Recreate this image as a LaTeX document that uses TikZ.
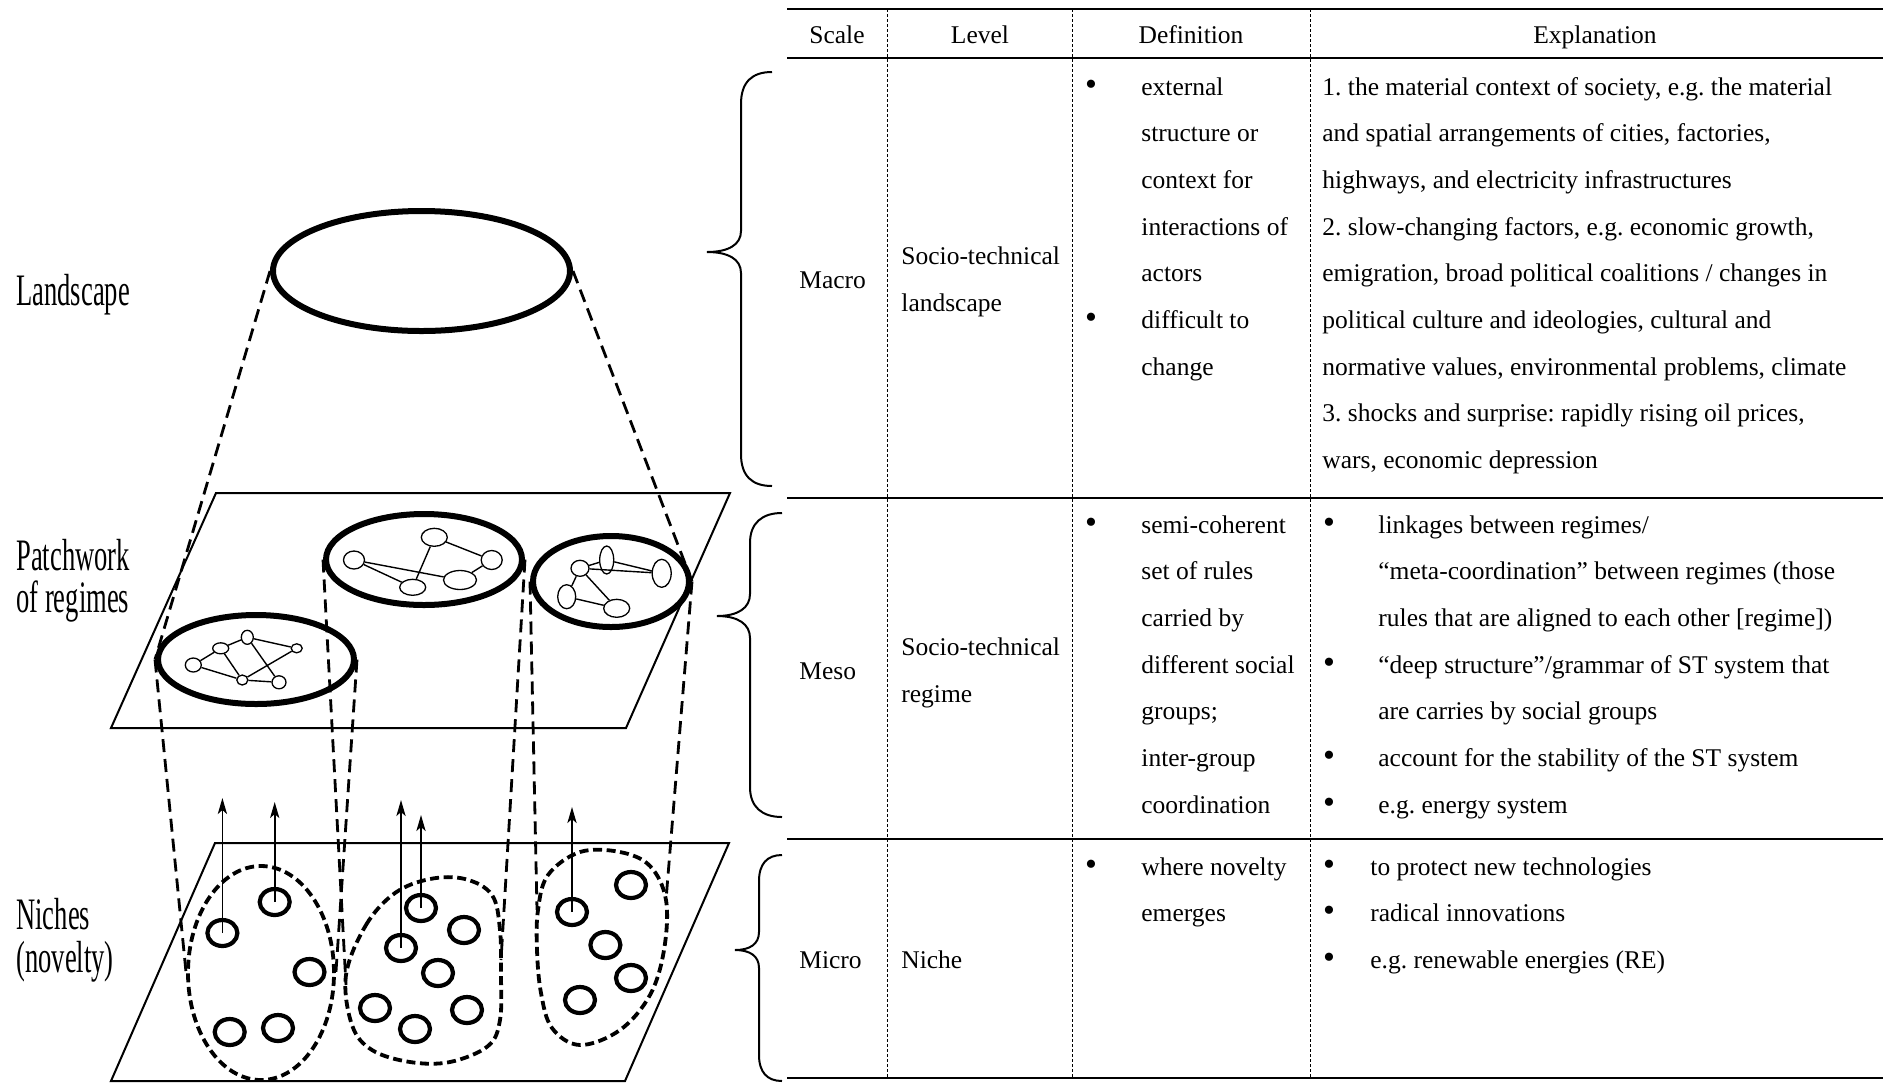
\documentclass[tikz,border=0pt]{standalone}
\usepackage{fontspec}
\setmainfont{Liberation Serif}
\usetikzlibrary{shapes.geometric, arrows.meta}
\frenchspacing

\begin{document}
\begin{tikzpicture}[x=0.5pt, y=-0.5pt,
  plane/.style={line width=1pt, line join=miter},
  thickell/.style={ellipse, draw, line width=3pt, inner sep=0pt},
  netnode/.style={ellipse, draw, line width=0.65pt, inner sep=0pt},
  netedge/.style={line width=0.7pt},
  nichecirc/.style={ellipse, draw, line width=2.1pt, inner sep=0pt, minimum width=15pt, minimum height=13pt},
  link/.style={line width=1.4pt, dash pattern=on 6.5pt off 3.5pt},
  blob/.style={line width=1.9pt, dash pattern=on 4.5pt off 2.3pt},
  rise/.style={line width=0.85pt, -{Stealth[length=8pt, width=4.6pt, inset=2pt]}},
  rule/.style={line width=1.3pt},
  colsep/.style={line width=0.5pt, dash pattern=on 1.5pt off 1pt},
  brace/.style={line width=1pt},
  cell/.style={inner sep=0pt, anchor=base west, font=\fontsize{12.75pt}{15pt}\selectfont},
  bul/.style={inner sep=0pt, anchor=base, font=\fontsize{17pt}{20pt}\selectfont},
  head/.style={inner sep=0pt, anchor=base, font=\fontsize{12.75pt}{15pt}\selectfont},
  lvl/.style={inner sep=0pt, anchor=base west, font=\fontsize{22.5pt}{26pt}\selectfont},
]
\useasboundingbox (0,0) rectangle (1883,1083);

% ---------- level labels ----------
\node[lvl] (labLand) at (16,305) {\scalebox{0.59}[1]{Landscape}};
\node[lvl] (labPatch) at (16,570) {\scalebox{0.59}[1]{Patchwork}};
\node[lvl] (labOfReg) at (16,612) {\scalebox{0.59}[1]{of regimes}};
\node[lvl] (labNiche) at (16,929) {\scalebox{0.59}[1]{Niches}};
\node[lvl] (labNov) at (16,972) {\scalebox{0.59}[1]{(novelty)}};

% ---------- planes ----------
\coordinate (rpTL) at (216,493);
\coordinate (rpTR) at (730,493);
\coordinate (rpBR) at (626,728);
\coordinate (rpBL) at (111,728);
\draw[plane] (rpTL) -- (rpTR) -- (rpBR) -- (rpBL) -- cycle;
\coordinate (npTL) at (215,843);
\coordinate (npTR) at (729,843);
\coordinate (npBR) at (625,1081);
\coordinate (npBL) at (111,1081);
\draw[plane] (npTL) -- (npTR) -- (npBR) -- (npBL) -- cycle;

% ---------- landscape and regimes ----------
\node[thickell, minimum width=148.5pt, minimum height=60pt] (land) at (421.5,271) {};
\node[thickell, minimum width=98pt, minimum height=44.5pt] (regL) at (256,659.5) {};
\node[thickell, minimum width=98pt, minimum height=45.5pt] (regM) at (424,559.5) {};
\node[thickell, minimum width=78pt, minimum height=45.5pt] (regR) at (611,581.5) {};

% network in the left regime
\node[netnode, minimum width=8pt, minimum height=7pt] (nA) at (193.3,665) {};
\node[netnode, minimum width=8pt, minimum height=5.5pt] (nB) at (220.7,648.3) {};
\node[netnode, minimum width=6pt, minimum height=7pt] (nC) at (247.3,637.3) {};
\node[netnode, minimum width=5.5pt, minimum height=4.5pt] (nD) at (296.7,648.3) {};
\node[netnode, minimum width=5.5pt, minimum height=5pt] (nE) at (242.3,680) {};
\node[netnode, minimum width=7pt, minimum height=6.5pt] (nF) at (279,682.3) {};
\draw[netedge] (nA) -- (nB) (nB) -- (nC) (nC) -- (nD) (nA) -- (nE)
  (nB) -- (nE) (nC) -- (nF) (nD) -- (nE) (nE) -- (nF);

% network in the middle regime
\node[netnode, minimum width=10.5pt, minimum height=9pt] (nG) at (354,560) {};
\node[netnode, minimum width=13pt, minimum height=9pt] (nH) at (434.3,537.3) {};
\node[netnode, minimum width=13pt, minimum height=8pt] (nI) at (412.7,587.3) {};
\node[netnode, minimum width=16.5pt, minimum height=9.5pt] (nJ) at (460,580) {};
\node[netnode, minimum width=10.5pt, minimum height=9.5pt] (nK) at (491.7,560) {};
\draw[netedge] (nG) -- (nI) (nG) -- (nJ) (nH) -- (nI) (nH) -- (nK) (nJ) -- (nK);

% network in the right regime
\node[netnode, minimum width=9pt, minimum height=8pt] (nL) at (580,568.3) {};
\node[netnode, minimum width=7pt, minimum height=14pt] (nM) at (606.7,560) {};
\node[netnode, minimum width=9.5pt, minimum height=14pt] (nN) at (661.7,573.3) {};
\node[netnode, minimum width=9pt, minimum height=12pt] (nO) at (566.7,596.7) {};
\node[netnode, minimum width=13pt, minimum height=9pt] (nP) at (616.7,608.3) {};
\draw[netedge] (nL) -- (nM) (nM) -- (nN) (nL) -- (nN) (nL) -- (nO) (nL) -- (nP) (nO) -- (nP);

% ---------- niches ----------
\node[ellipse, draw, blob, inner sep=0pt, minimum width=73pt, minimum height=107pt] (nb1) at (261,973) {};
\draw[blob] plot[smooth cycle, tension=0.6] coordinates {(346,975) (366,925) (395,893) (430,879)
  (465,879) (492,895) (500,930) (501,975) (500,1020) (488,1046) (450,1062) (410,1062)
  (372,1050) (352,1025)};
\draw[blob] plot[smooth cycle, tension=0.6] coordinates {(580,852) (620,852) (650,866) (666,900)
  (664,950) (650,995) (620,1030) (580,1045) (552,1028) (541,993) (537,950) (538,910) (548,875)};
\coordinate (b2w) at (346,985);
\coordinate (b2e) at (501,960);
\coordinate (b3w) at (537,910);
\coordinate (b3e) at (666,900);

\foreach \p [count=\i] in {(222.4,933),(274.7,902),(309.5,972),(229.7,1032),(278,1028),
  (421,908),(464,930),(401,948),(438,973),(375,1008),(467,1010),(415,1029),
  (631,885),(572,912),(605.4,945),(631,978),(580,1000)}
  \node[nichecirc] (c\i) at \p {};

% ---------- dashed projections ----------
\draw[link] (land.west) -- (regL.west);
\draw[link] (land.east) -- (regR.east);
\draw[link] (regL.west) -- (nb1.west);
\draw[link] (regL.east) -- (nb1.east);
\draw[link] (regM.west) -- (b2w);
\draw[link] (regM.east) -- (b2e);
\draw[link] (regR.west) -- (b3w);
\draw[link] (regR.east) -- (b3e);

% ---------- rising novelties ----------
\coordinate (t1) at (222.4,798);
\coordinate (t2) at (274.7,802);
\coordinate (t3) at (401,800);
\coordinate (t4) at (421,815);
\coordinate (t5) at (572,807);
\draw[rise] (c1.center) -- (t1);
\draw[rise] (c2.center) -- (t2);
\draw[rise] (c8.center) -- (t3);
\draw[rise] (c6.center) -- (t4);
\draw[rise] (c14.center) -- (t5);

% ---------- braces ----------
\draw[brace] (772,72) .. controls (752,72) and (741,82) .. (741,104) -- (741,231)
  .. controls (741,245) and (728,252) .. (707,252)
  .. controls (728,252) and (741,259) .. (741,273) -- (741,454)
  .. controls (741,476) and (752,486) .. (772,486);
\draw[brace] (782,513) .. controls (762,513) and (750,523) .. (750,543) -- (750,594)
  .. controls (750,608) and (738,616) .. (717,616)
  .. controls (738,616) and (750,624) .. (750,638) -- (750,787)
  .. controls (750,807) and (762,817) .. (782,817);
\draw[brace] (782,855) .. controls (767,855) and (759,864) .. (759,881) -- (759,932)
  .. controls (759,944) and (750,950) .. (735,950)
  .. controls (750,950) and (759,956) .. (759,968) -- (759,1055)
  .. controls (759,1072) and (767,1081) .. (782,1081);

% ---------- table ----------
\draw[rule] (787,9) -- (1883,9);
\draw[rule] (787,58) -- (1883,58);
\draw[rule] (787,498) -- (1883,498);
\draw[rule] (787,839) -- (1883,839);
\draw[rule] (787,1078) -- (1883,1078);
\draw[colsep] (887,9) -- (887,1078);
\draw[colsep] (1072,9) -- (1072,1078);
\draw[colsep] (1310,9) -- (1310,1078);

\node[head] (hScale) at (837,43) {Scale};
\node[head] (hLevel) at (980,43) {Level};
\node[head] (hDef) at (1191,43) {Definition};
\node[head] (hExp) at (1595,43) {Explanation};

% macro row
\node[cell] (macScale) at (799,288) {Macro};
\node[cell] (macLvl1) at (901,264) {Socio-technical};
\node[cell] (macLvl2) at (901,311) {landscape};
\foreach \t [count=\i from 0] in {external, structure or, context for, interactions of, actors, difficult to, change}
  \node[cell] (macDef\i) at (1141,{95+\i*46.7}) {\t};
\node[bul] (macB0) at (1091,95) {\textbullet};
\node[bul] (macB5) at (1091,{95+5*46.7}) {\textbullet};
\foreach \t [count=\i from 0] in {{1. the material context of society, e.g. the material},
  {and spatial arrangements of cities, factories,},
  {highways, and electricity infrastructures},
  {2. slow-changing factors, e.g. economic growth,},
  {emigration, broad political coalitions / changes in},
  {political culture and ideologies, cultural and},
  {normative values, environmental problems, climate},
  {3. shocks and surprise: rapidly rising oil prices,},
  {wars, economic depression}}
  \node[cell] (macExp\i) at (1322,{95+\i*46.7}) {\t};

% meso row
\node[cell] (mesScale) at (799,679) {Meso};
\node[cell] (mesLvl1) at (901,655.5) {Socio-technical};
\node[cell] (mesLvl2) at (901,702) {regime};
\foreach \t [count=\i from 0] in {semi-coherent, set of rules, carried by, different social, groups;, inter-group, coordination}
  \node[cell] (mesDef\i) at (1141,{533+\i*46.7}) {\t};
\node[bul] (mesB0) at (1091,533) {\textbullet};
\foreach \t [count=\i from 0] in {{linkages between regimes/},
  {“meta-coordination” between regimes (those},
  {rules that are aligned to each other [regime])},
  {“deep structure”/grammar of ST system that},
  {are carries by social groups},
  {account for the stability of the ST system},
  {e.g. energy system}}
  \node[cell] (mesExp\i) at (1378,{533+\i*46.7}) {\t};
\foreach \k in {0,3,5,6}
  \node[bul] (mesEB\k) at (1329,{533+\k*46.7}) {\textbullet};

% micro row
\node[cell] (micScale) at (799,968) {Micro};
\node[cell] (micLvl) at (901,968) {Niche};
\node[cell] (micDef0) at (1141,875) {where novelty};
\node[cell] (micDef1) at (1141,921.7) {emerges};
\node[bul] (micB0) at (1091,875) {\textbullet};
\foreach \t [count=\i from 0] in {to protect new technologies, radical innovations, e.g. renewable energies (RE)}
  \node[cell] (micExp\i) at (1370,{875+\i*46.7}) {\t};
\foreach \k in {0,1,2}
  \node[bul] (micEB\k) at (1329,{875+\k*46.7}) {\textbullet};

\end{tikzpicture}
\end{document}
